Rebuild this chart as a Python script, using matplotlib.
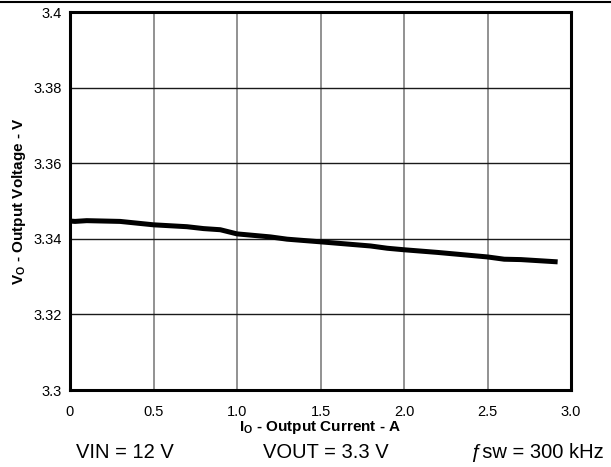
import matplotlib
matplotlib.use("Agg")
import matplotlib.pyplot as plt
from matplotlib.lines import Line2D

plt.rcParams['font.family'] = ['Liberation Sans', 'DejaVu Sans']

current = [0, 0.03, 0.1, 0.3, 0.5, 0.7, 0.8, 0.9, 1.0, 1.2, 1.3, 1.5, 1.8, 1.9, 2.0, 2.2, 2.4, 2.5, 2.6, 2.7, 2.92]
voltage = [3.3447, 3.3446, 3.3448, 3.3446, 3.3437, 3.3432, 3.3427, 3.3424, 3.3413, 3.3405, 3.3399, 3.3392, 3.3381,
           3.3375, 3.3371, 3.3364, 3.3356, 3.3352, 3.3346, 3.3345, 3.3339]

x_ticks = [0, 0.5, 1.0, 1.5, 2.0, 2.5, 3.0]
x_labels = ["0", "0.5", "1.0", "1.5", "2.0", "2.5", "3.0"]
y_ticks = [3.3, 3.32, 3.34, 3.36, 3.38, 3.4]
y_labels = ["3.3", "3.32", "3.34", "3.36", "3.38", "3.4"]

fig = plt.figure(figsize=(6.11, 4.67), dpi=100)
ax = fig.add_axes([70/611, 1-390/467, 501/611, 378/467])

ax.plot(current, voltage, color='black', lw=3.6, solid_capstyle='butt', zorder=3)

ax.set_xlim(0, 3.0)
ax.set_ylim(3.3, 3.4)
ax.set_xticks(x_ticks)
ax.set_xticklabels(x_labels)
ax.set_yticks(y_ticks)
ax.set_yticklabels(y_labels)
ax.tick_params(length=0, labelsize=10.5)
ax.tick_params(axis='x', pad=11)
ax.tick_params(axis='y', pad=6)

for xv in x_ticks[1:-1]:
    ax.axvline(xv, color='#7f7f7f', lw=1.2, zorder=1)
for yv in y_ticks[1:-1]:
    ax.axhline(yv, color='#1a1a1a', lw=1.0, zorder=1)

for s in ax.spines.values():
    s.set_linewidth(2.2)
    s.set_color('black')

ax.set_xlabel(r"I$_\mathregular{O}$ - Output Current - A", fontsize=11, fontweight='bold', labelpad=0)
ax.set_ylabel(r"V$_\mathregular{O}$ - Output Voltage - V", fontsize=11, fontweight='bold', labelpad=4)

fig.text(125/611, 1-453/467, "VIN = 12 V", ha='center', va='center', fontsize=14.5)
fig.text(326/611, 1-453/467, "VOUT = 3.3 V", ha='center', va='center', fontsize=14.5)
fig.text(537/611, 1-453/467, "ƒsw = 300 kHz", ha='center', va='center', fontsize=14.5)

fig.add_artist(Line2D([0, 1], [1-1.5/467, 1-1.5/467], color='black', lw=1.5, transform=fig.transFigure))

fig.savefig("out.png", dpi=100)
